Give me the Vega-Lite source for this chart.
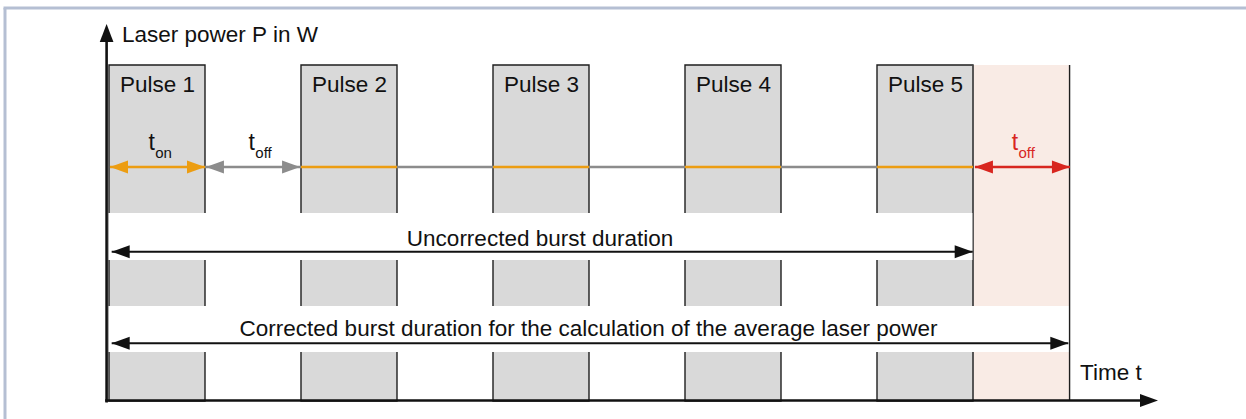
{
  "$schema": "https://vega.github.io/schema/vega-lite/v6.json",
  "width": 1246,
  "height": 419,
  "padding": 0,
  "autosize": {"type": "none"},
  "background": "white",
  "config": {"view": {"stroke": null}},
  "datasets": {
    "frame": [
      {"t": -1.0833, "t2": -1.0833, "p": 11.696, "p2": -1},
      {"t": -1.0990, "t2": 13, "p": 11.696, "p2": 11.696}
    ],
    "extra": [{"t": 9, "t2": 10, "p": 0, "p2": 10}],
    "pulses": [
      {"pulse": "Pulse 1", "t": 0, "t2": 1, "p": 0, "p2": 10},
      {"pulse": "Pulse 2", "t": 2, "t2": 3, "p": 0, "p2": 10},
      {"pulse": "Pulse 3", "t": 4, "t2": 5, "p": 0, "p2": 10},
      {"pulse": "Pulse 4", "t": 6, "t2": 7, "p": 0, "p2": 10},
      {"pulse": "Pulse 5", "t": 8, "t2": 9, "p": 0, "p2": 10}
    ],
    "innerEdge": [{"t": 9, "t2": 9, "p": 0, "p2": 10}],
    "gaps": [
      {"t": -0.005, "t2": 8.994, "p": 4.196, "p2": 5.595},
      {"t": -0.005, "t2": 10, "p": 1.458, "p2": 2.827}
    ],
    "outerEdge": [{"t": 10.006, "t2": 10.006, "p": 0, "p2": 10}],
    "segments": [
      {"t": 0.01, "t2": 1, "p": 6.964, "p2": 6.964, "kind": "on"},
      {"t": 1, "t2": 2, "p": 6.964, "p2": 6.964, "kind": "off"},
      {"t": 2, "t2": 3, "p": 6.964, "p2": 6.964, "kind": "on"},
      {"t": 3, "t2": 4, "p": 6.964, "p2": 6.964, "kind": "off"},
      {"t": 4, "t2": 5, "p": 6.964, "p2": 6.964, "kind": "on"},
      {"t": 5, "t2": 6, "p": 6.964, "p2": 6.964, "kind": "off"},
      {"t": 6, "t2": 7, "p": 6.964, "p2": 6.964, "kind": "on"},
      {"t": 7, "t2": 8, "p": 6.964, "p2": 6.964, "kind": "off"},
      {"t": 8, "t2": 9, "p": 6.964, "p2": 6.964, "kind": "on"},
      {"t": 9.02, "t2": 10.01, "p": 6.964, "p2": 6.964, "kind": "extra"}
    ],
    "bursts": [
      {"t": 0.028, "t2": 8.997, "p": 4.443, "p2": 4.443, "kind": "black"},
      {"t": 0.028, "t2": 9.993, "p": 1.717, "p2": 1.717, "kind": "black"}
    ],
    "axes": [
      {"t": -0.025, "t2": -0.025, "p": -0.045, "p2": 11.0, "kind": "black"},
      {"t": -0.04, "t2": 10.8, "p": 0.015, "p2": 0.015, "kind": "black"}
    ],
    "heads": [
      {"t": 0.0104, "p": 6.964, "kind": "on", "dir": "left"},
      {"t": 1.0, "p": 6.964, "kind": "on", "dir": "right"},
      {"t": 1.01, "p": 6.964, "kind": "off", "dir": "left"},
      {"t": 1.99, "p": 6.964, "kind": "off", "dir": "right"},
      {"t": 9.02, "p": 6.964, "kind": "extra", "dir": "left"},
      {"t": 10.01, "p": 6.964, "kind": "extra", "dir": "right"},
      {"t": 0.028, "p": 4.443, "kind": "black", "dir": "left"},
      {"t": 8.997, "p": 4.443, "kind": "black", "dir": "right"},
      {"t": 0.028, "p": 1.717, "kind": "black", "dir": "left"},
      {"t": 9.993, "p": 1.717, "kind": "black", "dir": "right"},
      {"t": -0.025, "p": 11.22, "kind": "black", "dir": "up"},
      {"t": 10.927, "p": 0.015, "kind": "black", "dir": "right"}
    ],
    "texts": [
      {"label": "Laser power P in W", "t": 0.135, "p": 10.685, "kind": "black", "role": "left"},
      {"label": "Pulse 1", "t": 0.505, "p": 9.196, "kind": "black", "role": "center"},
      {"label": "Pulse 2", "t": 2.505, "p": 9.196, "kind": "black", "role": "center"},
      {"label": "Pulse 3", "t": 4.505, "p": 9.196, "kind": "black", "role": "center"},
      {"label": "Pulse 4", "t": 6.505, "p": 9.196, "kind": "black", "role": "center"},
      {"label": "Pulse 5", "t": 8.505, "p": 9.196, "kind": "black", "role": "center"},
      {"label": "t", "t": 0.478, "p": 7.47, "kind": "black", "role": "sym"},
      {"label": "t", "t": 1.52, "p": 7.47, "kind": "black", "role": "sym"},
      {"label": "t", "t": 9.47, "p": 7.47, "kind": "extra", "role": "sym"},
      {"label": "Uncorrected burst duration", "t": 4.49, "p": 4.613, "kind": "black", "role": "center"},
      {"label": "Corrected burst duration for the calculation of the average laser power", "t": 4.995, "p": 1.92, "kind": "black", "role": "center"},
      {"label": "Time t", "t": 10.115, "p": 0.625, "kind": "black", "role": "left"},
      {"label": "on", "t": 0.482, "p": 7.232, "kind": "black", "role": "sub"},
      {"label": "off", "t": 1.524, "p": 7.232, "kind": "black", "role": "sub"},
      {"label": "off", "t": 9.474, "p": 7.232, "kind": "extra", "role": "sub"}
    ]
  },
  "encoding": {
    "x": {"field": "t", "type": "quantitative", "scale": {"domain": [-1.13542, 11.84375], "nice": false, "zero": false}, "axis": null},
    "y": {"field": "p", "type": "quantitative", "scale": {"domain": [-0.5357, 11.9345], "nice": false, "zero": false}, "axis": null}
  },
  "layer": [
    {
      "data": {"name": "frame"},
      "mark": {"type": "rule", "strokeWidth": 3, "color": "#b5bfd3"},
      "encoding": {"x2": {"field": "t2"}, "y2": {"field": "p2"}}
    },
    {
      "data": {"name": "extra"},
      "mark": {"type": "rect", "fill": "#f9ebe5"},
      "encoding": {"x2": {"field": "t2"}, "y2": {"field": "p2"}}
    },
    {
      "data": {"name": "pulses"},
      "mark": {"type": "rect", "fill": "#d9d9d9", "stroke": "#1e1e1e", "strokeWidth": 1.4},
      "encoding": {"x2": {"field": "t2"}, "y2": {"field": "p2"}}
    },
    {
      "data": {"name": "innerEdge"},
      "mark": {"type": "rule", "strokeWidth": 1.2, "color": "#555555"},
      "encoding": {"x2": {"field": "t2"}, "y2": {"field": "p2"}}
    },
    {
      "data": {"name": "gaps"},
      "mark": {"type": "rect", "fill": "white"},
      "encoding": {"x2": {"field": "t2"}, "y2": {"field": "p2"}}
    },
    {
      "data": {"name": "outerEdge"},
      "mark": {"type": "rule", "strokeWidth": 1.4, "color": "#1e1e1e"},
      "encoding": {"x2": {"field": "t2"}, "y2": {"field": "p2"}}
    },
    {
      "data": {"name": "segments"},
      "mark": {"type": "rule", "strokeWidth": 2.5},
      "encoding": {
        "x2": {"field": "t2"}, "y2": {"field": "p2"},
        "color": {"field": "kind", "type": "nominal", "scale": {"domain": ["on", "off", "extra", "black"], "range": ["#ec9d12", "#8c8c8c", "#d8261f", "#111111"]}, "legend": null}
      }
    },
    {
      "data": {"name": "bursts"},
      "mark": {"type": "rule", "strokeWidth": 2},
      "encoding": {
        "x2": {"field": "t2"}, "y2": {"field": "p2"},
        "color": {"field": "kind", "type": "nominal", "legend": null}
      }
    },
    {
      "data": {"name": "axes"},
      "mark": {"type": "rule", "strokeWidth": 2.6},
      "encoding": {
        "x2": {"field": "t2"}, "y2": {"field": "p2"},
        "color": {"field": "kind", "type": "nominal", "legend": null}
      }
    },
    {
      "data": {"name": "heads"},
      "transform": [{"filter": "datum.dir === 'left'"}],
      "mark": {"type": "point", "shape": "M0,0L2,-0.72L2,0.72Z", "size": 324, "filled": true, "opacity": 1, "strokeWidth": 0},
      "encoding": {"color": {"field": "kind", "type": "nominal", "legend": null}}
    },
    {
      "data": {"name": "heads"},
      "transform": [{"filter": "datum.dir === 'right'"}],
      "mark": {"type": "point", "shape": "M0,0L-2,-0.72L-2,0.72Z", "size": 324, "filled": true, "opacity": 1, "strokeWidth": 0},
      "encoding": {"color": {"field": "kind", "type": "nominal", "legend": null}}
    },
    {
      "data": {"name": "heads"},
      "transform": [{"filter": "datum.dir === 'up'"}],
      "mark": {"type": "point", "shape": "M0,0L-0.76,2L0.76,2Z", "size": 324, "filled": true, "opacity": 1, "strokeWidth": 0},
      "encoding": {"color": {"field": "kind", "type": "nominal", "legend": null}}
    },
    {
      "data": {"name": "texts"},
      "transform": [{"filter": "datum.role === 'center'"}],
      "mark": {"type": "text", "align": "center", "baseline": "alphabetic", "fontSize": 22.5, "font": "Liberation Sans"},
      "encoding": {"text": {"field": "label"}, "color": {"field": "kind", "type": "nominal", "legend": null}}
    },
    {
      "data": {"name": "texts"},
      "transform": [{"filter": "datum.role === 'left'"}],
      "mark": {"type": "text", "align": "left", "baseline": "alphabetic", "fontSize": 22.5, "font": "Liberation Sans"},
      "encoding": {"text": {"field": "label"}, "color": {"field": "kind", "type": "nominal", "legend": null}}
    },
    {
      "data": {"name": "texts"},
      "transform": [{"filter": "datum.role === 'sym'"}],
      "mark": {"type": "text", "align": "right", "baseline": "alphabetic", "fontSize": 23, "font": "Liberation Sans"},
      "encoding": {"text": {"field": "label"}, "color": {"field": "kind", "type": "nominal", "legend": null}}
    },
    {
      "data": {"name": "texts"},
      "transform": [{"filter": "datum.role === 'sub'"}],
      "mark": {"type": "text", "align": "left", "baseline": "alphabetic", "fontSize": 15, "font": "Liberation Sans"},
      "encoding": {"text": {"field": "label"}, "color": {"field": "kind", "type": "nominal", "legend": null}}
    }
  ]
}
